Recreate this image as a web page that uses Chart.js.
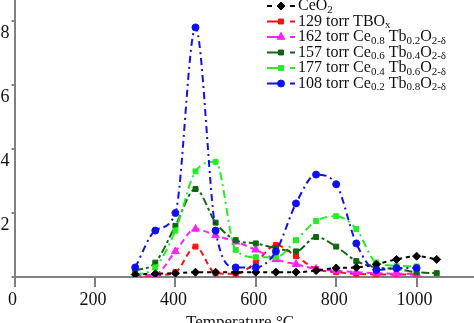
<!DOCTYPE html>
<html>
<head>
<meta charset="utf-8">
<script src="https://cdn.jsdelivr.net/npm/chart.js@4"></script>
<style>
  html, body { margin: 0; padding: 0; background: #fff; overflow: hidden; width: 474px; height: 323px; }
  #wrap { position: absolute; left: 0; top: -60px; width: 560px; height: 420px; }
</style>
</head>
<body>
<div id="wrap"><canvas id="tprChart" width="560" height="420"></canvas></div>
<script>
// temperatures (°C)
const temps = [300, 350, 400, 450, 500, 550, 600, 650, 700, 750, 800, 850, 900, 950, 1000, 1050];

// series values
const ceo2 = [0.08, 0.1, 0.12, 0.15, 0.15, 0.15, 0.15, 0.15, 0.15, 0.2, 0.28, 0.3, 0.4, 0.55, 0.65, 0.55];
const tbox = [0.02, 0.05, 0.15, 0.95, 0.12, 0.1, 0.45, 1.0, 0.65, 0.25, 0.15, 0.1, 0.08, 0.08, 0.08, null];
const ce08 = [0.05, 0.08, 0.8, 1.5, 1.3, 1.1, 0.85, 0.55, 0.4, 0.25, 0.2, 0.15, 0.12, 0.1, 0.1, null];
const ce06 = [0.2, 0.45, 1.6, 2.75, 1.7, 1.15, 1.05, 0.9, 0.8, 1.25, 0.95, 0.5, 0.3, 0.25, 0.15, 0.12];
const ce04 = [0.06, 0.3, 1.45, 3.3, 3.6, 0.85, 0.62, 0.62, 1.15, 1.75, 1.9, 1.5, 0.45, 0.35, 0.33, null];
const ce02 = [0.3, 1.45, 2.0, 7.8, 1.45, 0.3, 0.3, 0.8, 2.3, 3.2, 2.9, 1.05, 0.22, 0.28, 0.28, null];

// legend names, _{..} = subscript
const names = [
  'CeO_{2}',
  '129 torr TBO_{x}',
  '162 torr Ce_{0.8} Tb_{0.2}O_{2-δ}',
  '157 torr Ce_{0.6} Tb_{0.4}O_{2-δ}',
  '177 torr Ce_{0.4} Tb_{0.6}O_{2-δ}',
  '108 torr Ce_{0.2} Tb_{0.8}O_{2-δ}'
];

const xTicks = [0, 200, 400, 600, 800, 1000, 1200];
const yTicks = [0, 2, 4, 6, 8, 10];

const FONT = '"Liberation Serif", "Times New Roman", serif';

function pts(vals) {
  return temps.map((t, i) => ({ x: t, y: vals[i] }));
}

function mkSet(label, vals, color, style, radius, dash, order) {
  return {
    label: label,
    data: pts(vals),
    borderColor: color,
    backgroundColor: color,
    borderWidth: 2,
    borderDash: dash,
    pointStyle: style,
    pointRadius: radius,
    pointBorderWidth: 1,
    cubicInterpolationMode: 'monotone',
    spanGaps: false,
    order: order
  };
}

const datasets = [
  mkSet(names[0], ceo2, '#000000', 'rectRot', 4, [4, 4], 2),
  mkSet(names[1], tbox, '#ff1010', 'rect', 3.5, [6, 4], 6),
  mkSet(names[2], ce08, '#ff20ff', 'triangle', 4.5, [6, 4], 5),
  mkSet(names[3], ce06, '#116611', 'rect', 3.5, [8, 3, 3, 3], 4),
  mkSet(names[4], ce04, '#22ee22', 'rect', 3.5, [8, 4, 2, 4], 3),
  mkSet(names[5], ce02, '#1010ee', 'circle', 3.5, [7, 4, 2, 4], 1)
];

// text with subscripts
function drawRich(ctx, str, x, y) {
  const parts = str.split(/(_\{[^}]*\})/);
  let cx = x;
  parts.forEach(p => {
    if (!p) return;
    if (p.startsWith('_{')) {
      const s = p.slice(2, -1);
      ctx.font = '11px ' + FONT;
      ctx.fillText(s, cx, y + 4);
      cx += ctx.measureText(s).width;
    } else {
      ctx.font = '16px ' + FONT;
      ctx.fillText(p, cx, y);
      cx += ctx.measureText(p).width;
    }
  });
}

const legendPlugin = {
  id: 'subLegend',
  afterDraw(chart) {
    const ctx = chart.ctx;
    const top = 60; // window offset inside canvas
    ctx.save();
    chart.data.datasets.forEach((ds, i) => {
      const y = top + 6 + i * 15.5;
      ctx.strokeStyle = ds.borderColor;
      ctx.fillStyle = ds.borderColor;
      ctx.lineWidth = 2;
      ctx.setLineDash([]);
      ctx.beginPath();
      if (i === 0) {
        ctx.moveTo(267, y); ctx.lineTo(272, y);
      } else {
        ctx.moveTo(267, y); ctx.lineTo(284, y);
      }
      ctx.moveTo(290, y); ctx.lineTo(295, y);
      ctx.stroke();
      ctx.lineWidth = 1;
      Chart.helpers.drawPoint(ctx, {
        pointStyle: ds.pointStyle, rotation: 0, radius: ds.pointRadius, borderWidth: 1
      }, 281, y);
      ctx.fillStyle = '#111';
      ctx.textBaseline = 'middle';
      ctx.textAlign = 'left';
      drawRich(ctx, ds.label, 298, y);
    });
    // axis title
    ctx.font = '17px ' + FONT;
    ctx.fillStyle = '#111';
    ctx.textAlign = 'center';
    ctx.textBaseline = 'alphabetic';
    ctx.fillText('Temperature °C', 240, top + 327);
    ctx.restore();
  }
};

const config = {
  type: 'line',
  data: { datasets: datasets },
  options: {
    responsive: false,
    animation: false,
    layout: { padding: { top: 17, right: 63, bottom: 0, left: 0 } },
    plugins: {
      legend: { display: false },
      tooltip: { enabled: false }
    },
    scales: {
      x: {
        type: 'linear',
        min: xTicks[0],
        max: xTicks[xTicks.length - 1],
        afterBuildTicks: s => { s.ticks = xTicks.map(v => ({ value: v })); },
        afterFit: s => { s.height = 83; s.paddingLeft = 0; s.paddingRight = 0; },
        ticks: {
          font: { family: FONT, size: 18 },
          color: '#111',
          padding: 2,
          labelOffset: -2,
          maxRotation: 0,
          autoSkip: false,
          callback: v => String(v)
        },
        grid: { drawOnChartArea: false, tickLength: 10, color: '#808080', lineWidth: 2 },
        border: { display: true, color: '#808080', width: 2 }
      },
      y: {
        min: yTicks[0],
        max: yTicks[yTicks.length - 1],
        afterBuildTicks: s => { s.ticks = yTicks.map(v => ({ value: v })); },
        afterFit: s => { s.width = 14.6; s.paddingTop = 0; s.paddingBottom = 0; },
        ticks: {
          font: { family: FONT, size: 18 },
          color: '#111',
          padding: 2,
          labelOffset: 12,
          callback: v => (v === 0 || v === 10) ? '' : String(v)
        },
        grid: { drawOnChartArea: false, tickLength: 3, color: '#808080', lineWidth: 2 },
        border: { display: true, color: '#808080', width: 2 }
      }
    }
  },
  plugins: [legendPlugin]
};

const tprChart = new Chart(document.getElementById('tprChart').getContext('2d'), config);
</script>
</body>
</html>
